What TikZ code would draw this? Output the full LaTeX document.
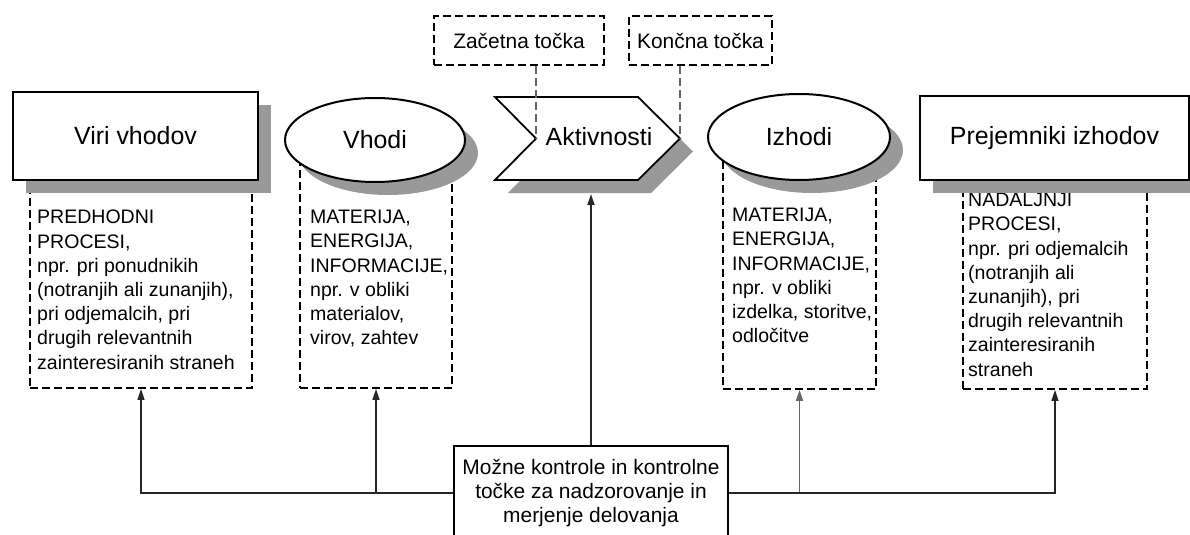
\documentclass[tikz,border=0pt]{standalone}
\usepackage{fontspec}
\setmainfont{Liberation Sans}
\usetikzlibrary{shapes.geometric,shadows,arrows.meta}

\begin{document}
\begin{tikzpicture}[x=10bp,y=10bp,
  castshadow/.style={drop shadow={shadow xshift=13bp,shadow yshift=-13bp,fill=black!40,opacity=1}},
  titlebox/.style={draw,line width=2.6bp,fill=white,castshadow,font=\fontsize{25}{30}\selectfont},
  titleoval/.style={ellipse,draw,line width=2bp,fill=white,castshadow,font=\fontsize{25}{30}\selectfont},
  infobox/.style={draw,dash pattern=on 8bp off 4bp,line width=1.8bp},
  infotext/.style={align=left,anchor=north west,font=\fontsize{19.6}{24.3}\selectfont},
  pointbox/.style={draw,dash pattern=on 8bp off 4bp,line width=1.6bp,font=\fontsize{21}{25}\selectfont},
  pointline/.style={draw=black!60,dash pattern=on 8bp off 4bp,line width=1.5bp},
  feed/.style={draw=black!85,line width=1.4bp,-{Triangle[length=11bp,width=7bp]}}]
\tikzstyle{every node}+=[inner sep=0pt]
\useasboundingbox (0,0) rectangle (119,-53.5);

% dashed boxes under the main shapes
\node[infobox,minimum width=222bp,minimum height=203bp] (viribox) at (14.1,-28.65) {};
\node[infotext] (viritxt) at (3.7,-21.0) {PREDHODNI\\PROCESI,\\npr. pri ponudnikih\\(notranjih ali zunanjih),\\pri odjemalcih, pri\\drugih relevantnih\\zainteresiranih straneh};
\node[infobox,minimum width=152bp,minimum height=233bp] (vhobox) at (37.6,-27.15) {};
\node[infotext] (vhotxt) at (31.0,-21.0) {MATERIJA,\\ENERGIJA,\\INFORMACIJE,\\npr. v obliki\\materialov,\\virov, zahtev};
\node[infobox,minimum width=153bp,minimum height=237bp] (izhbox) at (79.95,-27.05) {};
\node[infotext] (izhtxt) at (73.2,-20.8) {MATERIJA,\\ENERGIJA,\\INFORMACIJE,\\npr. v obliki\\izdelka, storitve,\\odločitve};
\node[infobox,minimum width=184bp,minimum height=204bp] (prejbox) at (105.5,-28.7) {};
\node[infotext] (prejtxt) at (96.8,-19.3) {NADALJNJI\\PROCESI,\\npr. pri odjemalcih\\(notranjih ali\\zunanjih), pri\\drugih relevantnih\\zainteresiranih\\straneh};

% main shapes
\node[titlebox,minimum width=245bp,minimum height=88bp] (viri) at (13.55,-13.6) {Viri vhodov};
\node[titleoval,minimum width=180bp,minimum height=84bp] (vhodi) at (37.5,-14.0) {Vhodi};
\node[titleoval,minimum width=182bp,minimum height=86bp] (izhodi) at (79.9,-13.7) {Izhodi};
\node[titlebox,minimum width=269bp,minimum height=84bp] (prej) at (105.45,-13.8) {Prejemniki izhodov};

% activity arrow
\coordinate (notch) at (53.6,-13.85);
\coordinate (tip) at (68.0,-13.85);
\coordinate (aktfoot) at (58.8,-19.4);
\draw[line width=1.8bp,fill=white,castshadow] (49.5,-9.7) -- (63.8,-9.7) -- (tip) -- (63.8,-18.0) -- (49.5,-18.0) -- (notch) -- cycle;
\node[font=\fontsize{25}{30}\selectfont] (akt) at (59.9,-13.7) {Aktivnosti};

% start and end points
\node[pointbox,minimum width=170bp,minimum height=49bp] (zac) at (51.9,-4.05) {Začetna točka};
\node[pointbox,minimum width=143bp,minimum height=49bp] (kon) at (70.05,-4.05) {Končna točka};
\draw[pointline] (zac.south -| notch) -- (notch);
\draw[pointline] (kon.south -| tip) -- (tip);

% controls
\node[draw,line width=2.8bp,fill=white,minimum width=274bp,minimum height=94bp,align=center,font=\fontsize{21}{24}\selectfont] (ctrl) at (59.1,-49.3) {Možne kontrole in kontrolne\\točke za nadzorovanje in\\merjenje delovanja};
\draw[feed] (ctrl.west) -| (viribox.south);
\draw[feed] (ctrl.west) -| (vhobox.south);
\draw[feed] (ctrl.north) -- (ctrl.north |- aktfoot);
\draw[feed,draw=black!60] (ctrl.east) -| (izhbox.south);
\draw[feed] (ctrl.east) -| (prejbox.south);
\end{tikzpicture}
\end{document}
